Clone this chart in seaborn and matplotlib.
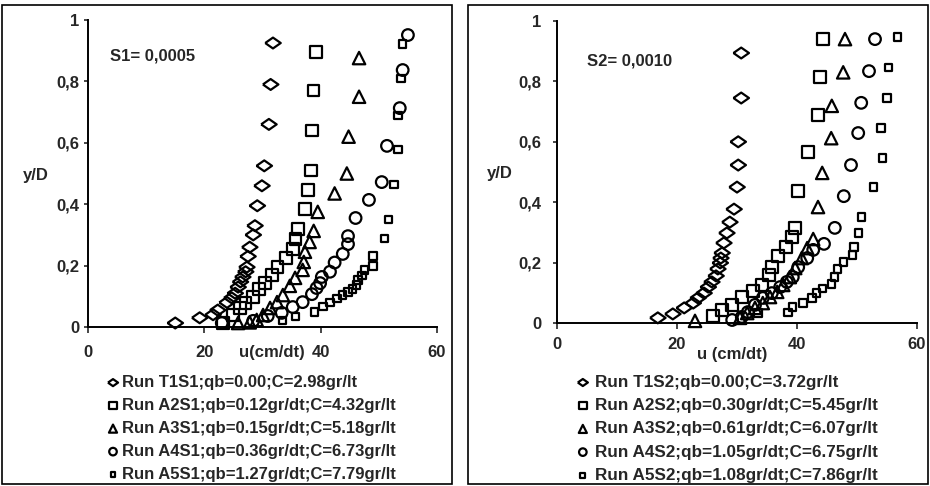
import matplotlib
matplotlib.use('Agg')
import matplotlib.pyplot as plt
import seaborn as sns
import pandas as pd
from matplotlib.patches import Rectangle

# ---------------- data: left panel (S1 = 0,0005) ----------------
u_T1S1 = [15.0, 19.2, 21.5, 22.3, 23.9, 24.7, 25.3, 25.8, 26.2, 26.6, 27.1, 27.3, 27.5, 27.8, 28.4, 28.7, 29.1, 29.9, 30.3, 31.1, 31.4, 31.8]
y_T1S1 = [0.013, 0.03, 0.04, 0.055, 0.08, 0.095, 0.11, 0.13, 0.147, 0.163, 0.18, 0.195, 0.23, 0.26, 0.30, 0.33, 0.395, 0.46, 0.525, 0.66, 0.79, 0.925]
u_A2S1 = [23.2, 24.9, 26.1, 27.1, 28.4, 29.4, 30.4, 31.6, 32.6, 34.0, 35.2, 35.7, 36.1, 37.3, 37.8, 38.3, 38.5, 38.8, 39.2]
y_A2S1 = [0.013, 0.039, 0.062, 0.078, 0.098, 0.123, 0.143, 0.17, 0.196, 0.224, 0.254, 0.287, 0.32, 0.384, 0.446, 0.51, 0.64, 0.77, 0.896]
u_A3S1 = [25.8, 27.8, 29.0, 30.1, 31.3, 32.5, 33.5, 34.7, 35.6, 36.9, 37.1, 37.3, 38.1, 38.8, 39.5, 42.4, 44.5, 44.8, 46.6, 46.6]
y_A3S1 = [0.013, 0.015, 0.023, 0.039, 0.062, 0.081, 0.104, 0.134, 0.16, 0.186, 0.212, 0.245, 0.277, 0.313, 0.375, 0.435, 0.50, 0.62, 0.75, 0.876]
u_A4S1 = [23.0, 28.4, 30.9, 33.3, 35.2, 36.9, 38.5, 39.3, 39.9, 40.2, 41.6, 42.4, 43.8, 44.7, 44.7, 46.0, 48.3, 50.5, 51.4, 53.6, 54.1, 55.0]
y_A4S1 = [0.013, 0.02, 0.036, 0.046, 0.065, 0.081, 0.107, 0.127, 0.143, 0.163, 0.18, 0.21, 0.238, 0.27, 0.296, 0.355, 0.414, 0.472, 0.59, 0.713, 0.837, 0.951]
u_A5S1 = [33.5, 35.7, 39.0, 40.4, 41.6, 42.8, 43.8, 44.7, 45.5, 46.2, 46.4, 47.1, 47.6, 49.0, 49.0, 51.0, 51.7, 52.6, 53.3, 53.3, 53.8, 54.1]
y_A5S1 = [0.02, 0.033, 0.049, 0.068, 0.081, 0.094, 0.104, 0.114, 0.124, 0.137, 0.153, 0.169, 0.186, 0.199, 0.231, 0.287, 0.349, 0.463, 0.577, 0.69, 0.81, 0.922]

# ---------------- data: right panel (S2 = 0,0010) ----------------
u_T1S2 = [16.8, 19.3, 21.2, 22.7, 23.5, 24.5, 25.2, 25.8, 26.5, 26.8, 27.2, 27.3, 27.5, 27.8, 28.3, 28.8, 29.5, 30.0, 30.2, 30.2, 30.7, 30.7]
y_T1S2 = [0.017, 0.03, 0.05, 0.066, 0.083, 0.099, 0.119, 0.136, 0.156, 0.179, 0.199, 0.215, 0.232, 0.265, 0.298, 0.334, 0.377, 0.45, 0.523, 0.60, 0.745, 0.894]
u_A2S2 = [26.0, 27.5, 29.2, 30.8, 32.7, 34.2, 35.3, 35.8, 36.8, 38.2, 39.2, 39.7, 40.2, 41.8, 43.5, 43.8, 44.3]
y_A2S2 = [0.023, 0.043, 0.06, 0.086, 0.106, 0.126, 0.159, 0.185, 0.222, 0.252, 0.285, 0.315, 0.437, 0.566, 0.689, 0.815, 0.94]
u_A3S2 = [23.0, 30.5, 31.7, 33.0, 34.3, 35.5, 36.7, 37.7, 38.8, 39.7, 40.8, 41.7, 42.7, 43.5, 44.2, 45.7, 45.8, 47.7, 48.0]
y_A3S2 = [0.007, 0.017, 0.033, 0.05, 0.066, 0.086, 0.103, 0.126, 0.152, 0.182, 0.215, 0.248, 0.278, 0.384, 0.497, 0.612, 0.719, 0.83, 0.94]
u_A4S2 = [29.2, 30.8, 31.8, 33.0, 34.3, 35.8, 37.2, 38.3, 39.3, 40.2, 41.7, 42.7, 44.5, 46.3, 47.8, 49.0, 50.2, 50.7, 52.0, 53.0]
y_A4S2 = [0.01, 0.02, 0.036, 0.06, 0.083, 0.099, 0.119, 0.136, 0.152, 0.185, 0.215, 0.242, 0.262, 0.315, 0.42, 0.523, 0.629, 0.729, 0.834, 0.94]
u_A5S2 = [33.5, 38.5, 39.3, 41.0, 42.5, 43.3, 44.3, 45.7, 46.3, 46.8, 47.8, 49.2, 49.5, 50.2, 50.8, 52.8, 54.3, 54.0, 55.0, 55.3, 56.8]
y_A5S2 = [0.033, 0.036, 0.053, 0.066, 0.083, 0.099, 0.113, 0.129, 0.152, 0.179, 0.202, 0.225, 0.252, 0.298, 0.351, 0.45, 0.546, 0.646, 0.745, 0.845, 0.947]

labels_S1 = ["Run T1S1;qb=0.00;C=2.98gr/lt", "Run A2S1;qb=0.12gr/dt;C=4.32gr/lt",
             "Run A3S1;qb=0.15gr/dt;C=5.18gr/lt", "Run A4S1;qb=0.36gr/dt;C=6.73gr/lt",
             "Run A5S1;qb=1.27gr/dt;C=7.79gr/lt"]
labels_S2 = ["Run T1S2;qb=0.00;C=3.72gr/lt", "Run A2S2;qb=0.30gr/dt;C=5.45gr/lt",
             "Run A3S2;qb=0.61gr/dt;C=6.07gr/lt", "Run A4S2;qb=1.05gr/dt;C=6.75gr/lt",
             "Run A5S2;qb=1.08gr/dt;C=7.86gr/lt"]
x_ticks = [0, 20, 40, 60]
y_ticks = [0, 0.2, 0.4, 0.6, 0.8, 1]
y_tick_labels = ["0", "0,2", "0,4", "0,6", "0,8", "1"]

series_S1 = [(u_T1S1, y_T1S1), (u_A2S1, y_A2S1), (u_A3S1, y_A3S1), (u_A4S1, y_A4S1), (u_A5S1, y_A5S1)]
series_S2 = [(u_T1S2, y_T1S2), (u_A2S2, y_A2S2), (u_A3S2, y_A3S2), (u_A4S2, y_A4S2), (u_A5S2, y_A5S2)]

# ---------------- style ----------------
sns.set_style('ticks')
plt.rcParams['font.family'] = ['Liberation Sans', 'DejaVu Sans']
plt.rcParams['font.weight'] = 'bold'

diamond = [(-1, 0), (0, 0.7), (1, 0), (0, -0.7), (-1, 0)]
marker_specs = [(diamond, 125), ('s', 70), ('^', 80), ('o', 70), ('s', 27)]

fig = plt.figure(figsize=(9.3, 4.86), dpi=100)
W, H = 930.0, 486.0
ax1 = fig.add_axes([88 / W, (H - 327) / H, 349 / W, 307 / H])
ax2 = fig.add_axes([557 / W, (H - 323) / H, 360 / W, 302 / H])


def draw(ax, series, labels):
    for (u, y), (m, s), lab in zip(series, marker_specs, labels):
        df = pd.DataFrame({'u': u, 'y': y})
        sns.scatterplot(data=df, x='u', y='y', ax=ax, marker=m, s=s,
                        facecolor='none', edgecolor='black', linewidth=1.6,
                        label=lab, zorder=3, clip_on=False)
    ax.set_xlim(0, 60)
    ax.set_ylim(0, 1)
    ax.set_xticks(x_ticks)
    ax.set_xticklabels([str(t) for t in x_ticks])
    ax.set_yticks(y_ticks)
    ax.set_yticklabels(y_tick_labels)
    for sp in ['top', 'right']:
        ax.spines[sp].set_visible(False)
    for sp in ['left', 'bottom']:
        ax.spines[sp].set_linewidth(1.4)
        ax.spines[sp].set_color('black')
    ax.tick_params(axis='x', direction='out', length=4, width=1.2, pad=9, labelsize=12)
    ax.tick_params(axis='y', direction='out', length=3, width=1.2, pad=3, labelsize=12)
    ax.set_ylabel('y/D', rotation=0, fontsize=12, fontweight='bold')


draw(ax1, series_S1, labels_S1)
draw(ax2, series_S2, labels_S2)

ax1.set_xlabel('u(cm/dt)', fontsize=12, fontweight='bold', va='center')
ax1.xaxis.set_label_coords((272 - 88) / 349, -(352 - 327) / 307)
ax2.set_xlabel('u (cm/dt)', fontsize=12, fontweight='bold', va='center')
ax2.xaxis.set_label_coords((732 - 557) / 360, -(355 - 323) / 302)
ax1.yaxis.set_label_coords(-(88 - 36) / 349, (327 - 175) / 307)
ax2.yaxis.set_label_coords(-(557 - 500) / 360, (323 - 173) / 302)
ax1.yaxis.label.set_va('center')
ax2.yaxis.label.set_va('center')
ax2.tick_params(axis='y', pad=8)
ax2.tick_params(axis='x', pad=6)

ax1.text((110 - 88) / 349, (327 - 56) / 307, 'S1= 0,0005', transform=ax1.transAxes,
         fontsize=12, fontweight='bold', va='center', ha='left')
ax2.text((587 - 557) / 360, (323 - 61) / 302, 'S2= 0,0010', transform=ax2.transAxes,
         fontsize=12, fontweight='bold', va='center', ha='left')

legend_prop = {'size': 12, 'weight': 'bold', 'family': 'Liberation Sans'}
ax1.legend(loc='upper left', bbox_to_anchor=(108 / W, (H - 375) / H), bbox_transform=fig.transFigure,
           frameon=False, borderpad=0, borderaxespad=0, handlelength=0.6, handletextpad=0.24,
           labelspacing=0.48, markerscale=0.65, prop=legend_prop)
ax2.legend(loc='upper left', bbox_to_anchor=(576 / W, (H - 375) / H), bbox_transform=fig.transFigure,
           frameon=False, borderpad=0, borderaxespad=0, handlelength=0.8, handletextpad=0.32,
           labelspacing=0.48, markerscale=0.65, prop={'size': 12.3, 'weight': 'bold', 'family': 'Liberation Sans'})

# outer panel frames
fig.patches.append(Rectangle((2 / W, 2 / H), 450 / W, 479 / H, transform=fig.transFigure,
                             fill=False, edgecolor='black', linewidth=1.2))
fig.patches.append(Rectangle((468 / W, 2 / H), 460 / W, 479 / H, transform=fig.transFigure,
                             fill=False, edgecolor='black', linewidth=1.2))

fig.savefig('out.png', dpi=100, facecolor='white')
